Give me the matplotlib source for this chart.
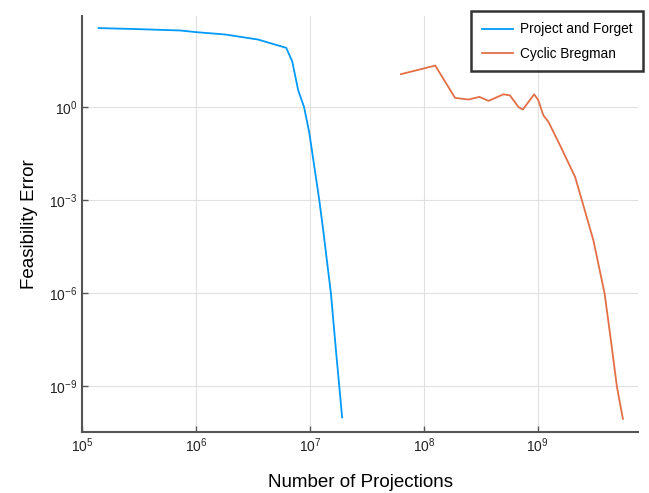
import matplotlib
matplotlib.use("Agg")
import matplotlib.pyplot as plt
from matplotlib.ticker import NullLocator

plt.rcParams['font.family'] = ['Liberation Sans', 'DejaVu Sans']
plt.rcParams['mathtext.fontset'] = 'custom'
plt.rcParams['mathtext.rm'] = 'Liberation Sans'
plt.rcParams['mathtext.it'] = 'Liberation Sans:italic'

# Project and Forget
pf_x = [1.4e5, 3.0e5, 7.3e5, 1.0e6, 1.8e6, 3.5e6, 6.2e6, 7.0e6, 7.9e6,
        8.9e6, 9.9e6, 1.21e7, 1.31e7, 1.53e7, 1.71e7, 1.92e7]
pf_y = [355, 330, 297, 263, 221, 152, 82, 30, 3.5,
        1.0, 0.145, 1e-3, 1.07e-4, 1e-6, 1e-8, 1e-10]

# Cyclic Bregman
cb_x = [6.3e7, 1.26e8, 1.88e8, 2.47e8, 3.08e8, 3.7e8, 5.0e8, 5.7e8, 6.8e8,
        7.4e8, 9.3e8, 1.01e9, 1.12e9, 1.24e9, 1.57e9, 2.13e9, 2.44e9, 3.08e9,
        3.86e9, 4.39e9, 4.95e9, 5.59e9]
cb_y = [11.6, 22, 2.0, 1.77, 2.15, 1.6, 2.6, 2.4, 1.0,
        0.84, 2.6, 1.7, 0.55, 0.34, 0.059, 0.0056, 1e-3, 5.1e-5,
        1e-6, 3.0e-8, 1e-9, 9e-11]

fig = plt.figure(figsize=(6.49, 4.93), dpi=100)
ax = fig.add_axes([82 / 649, 1 - 432 / 493, (638 - 82) / 649, (432 - 16) / 493])

ax.plot(pf_x, pf_y, color='#009AFA', lw=1.3, label='Project and Forget')
ax.plot(cb_x, cb_y, color='#E36F47', lw=1.3, label='Cyclic Bregman')

ax.set_xscale('log')
ax.set_yscale('log')
ax.set_xlim(1e5, 10 ** 9.88)
ax.set_ylim(10 ** -10.47, 10 ** 2.94)

ax.xaxis.set_minor_locator(NullLocator())
ax.yaxis.set_minor_locator(NullLocator())
ax.set_yticks([1e0, 1e-3, 1e-6, 1e-9])
ax.set_yticklabels([r'$10^{0}$', r'$10^{-3}$', r'$10^{-6}$', r'$10^{-9}$'])
ax.set_xticks([1e5, 1e6, 1e7, 1e8, 1e9])
ax.set_xticklabels([r'$10^{5}$', r'$10^{6}$', r'$10^{7}$', r'$10^{8}$', r'$10^{9}$'])

ax.grid(True, color='#e0e0e0', lw=0.8)
ax.set_axisbelow(True)
for s in ['top', 'right']:
    ax.spines[s].set_visible(False)
for s in ['left', 'bottom']:
    ax.spines[s].set_color('#555555')
    ax.spines[s].set_linewidth(1.5)
ax.tick_params(direction='in', length=4, width=1, color='#555555',
               labelsize=10, labelcolor='#222222')

ax.set_xlabel('Number of Projections', fontsize=13.5, labelpad=13)
ax.set_ylabel('Feasibility Error', fontsize=13.5, labelpad=8)

leg = ax.legend(loc='upper right', bbox_to_anchor=(643 / 649, 1 - 11.5 / 493),
                bbox_transform=fig.transFigure, fontsize=9.8, frameon=True,
                fancybox=False, borderpad=0.8, labelspacing=0.75,
                handlelength=2.3, handletextpad=0.5, borderaxespad=0)
leg.get_frame().set_edgecolor('black')
leg.get_frame().set_linewidth(1.8)

fig.savefig('out.png', dpi=100)
